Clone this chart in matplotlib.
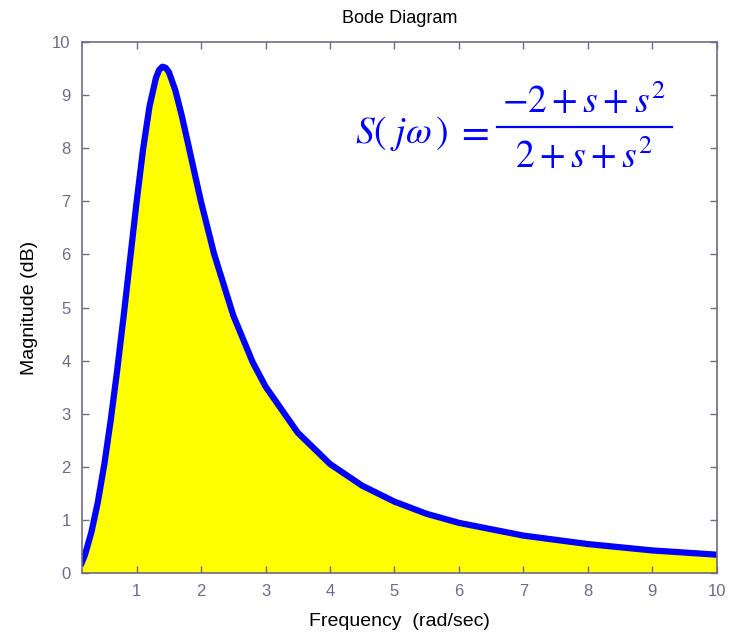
import numpy as np
import matplotlib
matplotlib.use("Agg")
import matplotlib.pyplot as plt

# magnitude of S(jw) in dB at the sampled frequencies
freq = [0.15, 0.2, 0.3, 0.4, 0.5, 0.6, 0.7, 0.8, 0.9, 1.0, 1.1, 1.2, 1.3,
        1.35, 1.4, 1.45, 1.5, 1.6, 1.7, 1.8, 1.9, 2.0, 2.2, 2.5, 2.8, 3.0,
        3.5, 4.0, 4.5, 5.0, 5.5, 6.0, 7.0, 8.0, 9.0, 10.0]
mag_db = [0.19, 0.34, 0.77, 1.34, 2.05, 2.89, 3.83, 4.85, 5.92, 6.99, 7.98,
          8.79, 9.33, 9.48, 9.54, 9.52, 9.44, 9.10, 8.62, 8.08, 7.53, 6.99,
          6.02, 4.85, 3.97, 3.51, 2.64, 2.05, 1.64, 1.34, 1.11, 0.94, 0.70,
          0.54, 0.42, 0.34]
xticks = [1, 2, 3, 4, 5, 6, 7, 8, 9, 10]
yticks = [0, 1, 2, 3, 4, 5, 6, 7, 8, 9, 10]

axcol = '#6c6c88'
blue = '#0000ff'
plt.rcParams['font.family'] = ['Liberation Sans', 'DejaVu Sans']
plt.rcParams['mathtext.fontset'] = 'stix'

fig = plt.figure(figsize=(7.37, 6.36), dpi=100)
ax = fig.add_axes([0.111, 0.0995, 0.8616, 0.834])

ax.fill_between(freq, mag_db, 0, color='#ffff00', lw=0)
ax.plot(freq, mag_db, color=blue, lw=4.5, solid_joinstyle='round')

ax.set_xlim(freq[0], 10)
ax.set_ylim(0, 10)
ax.set_xticks(xticks)
ax.set_yticks(yticks)
ax.tick_params(direction='in', top=True, right=True, length=5, width=1,
               colors=axcol, labelsize=12, pad=8)
for sp in ax.spines.values():
    sp.set_color(axcol)
    sp.set_linewidth(1.2)

ax.set_title('Bode Diagram', fontsize=13, pad=14)
ax.set_xlabel('Frequency  (rad/sec)', fontsize=14, labelpad=10)
ax.set_ylabel('Magnitude (dB)', fontsize=14, labelpad=10)

# S(jw) = (-2 + s + s^2) / (2 + s + s^2), laid out piece by piece
fs = 27
tr = ax.transAxes
ax.text(0.430, 0.810, r'$S($', transform=tr, color=blue,
        fontsize=fs, ha='left', va='baseline')
ax.text(0.486, 0.810, r'$j\omega\,)$', transform=tr, color=blue,
        fontsize=fs, ha='left', va='baseline')
ax.text(0.589, 0.810, r'$=$', transform=tr, color=blue,
        fontsize=fs + 2, ha='left', va='baseline')
ax.text(0.790, 0.867, r'$-2+s+s^2$', transform=tr, color=blue,
        fontsize=fs, ha='center', va='baseline')
ax.text(0.791, 0.763, r'$2+s+s^2$', transform=tr, color=blue,
        fontsize=fs, ha='center', va='baseline')
ax.plot([0.654, 0.930], [0.840, 0.840], transform=tr, color=blue, lw=1.6,
        clip_on=False)

fig.savefig('out.png', dpi=100)
